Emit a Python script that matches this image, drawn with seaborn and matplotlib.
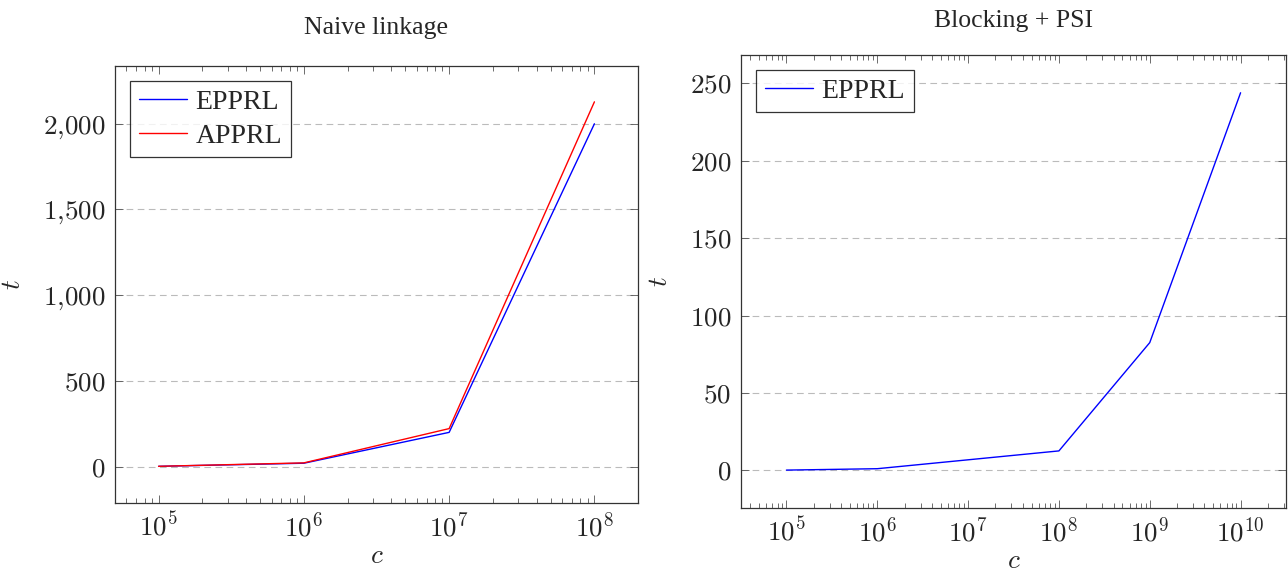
import numpy as np
import pandas as pd
import matplotlib
matplotlib.use("Agg")
import matplotlib.pyplot as plt
import matplotlib.ticker as mticker
import seaborn as sns

# ---- data ----
naive_c = [1e5, 1e6, 1e7, 1e8]
naive_epprl = [2, 20, 200, 2000]
naive_apprl = [2, 22, 222, 2128]

block_c = [1e5, 1e6, 1e8, 1e9, 1e10]
block_epprl = [0.1, 1.0, 12.5, 82.5, 244]

sns.set_theme(style="white")
plt.rcParams['font.family'] = ['Liberation Serif', 'DejaVu Serif']
plt.rcParams['mathtext.fontset'] = 'cm'

fig = plt.figure(figsize=(12.88, 5.77), dpi=100)
W, H = 1288, 577
ax1 = fig.add_axes([115 / W, 1 - 503 / H, (638 - 115) / W, (503 - 66) / H])
ax2 = fig.add_axes([741 / W, 1 - 508 / H, (1286 - 741) / W, (508 - 55) / H])

df1 = pd.DataFrame({
    "c": naive_c * 2,
    "t": naive_epprl + naive_apprl,
    "series": ["EPPRL"] * len(naive_c) + ["APPRL"] * len(naive_c),
})
sns.lineplot(data=df1, x="c", y="t", hue="series",
             palette={"EPPRL": "#0000ff", "APPRL": "#ff0000"},
             linewidth=1.0, ax=ax1, legend=True)

df2 = pd.DataFrame({"c": block_c, "t": block_epprl, "series": ["EPPRL"] * len(block_c)})
sns.lineplot(data=df2, x="c", y="t", hue="series", palette={"EPPRL": "#0000ff"},
             linewidth=1.0, ax=ax2, legend=True)

def style(ax, xlim, ylim, yticks, title, title_pad):
    ax.set_xscale("log")
    ax.set_xlim(*xlim)
    ax.set_ylim(*ylim)
    ax.set_yticks(yticks)
    ax.yaxis.set_major_formatter(mticker.FuncFormatter(lambda v, p: r"$%s$" % "{:,.0f}".format(v).replace(",", "{,}")))
    ax.xaxis.set_major_locator(mticker.LogLocator(base=10, numticks=20))
    ax.xaxis.set_minor_locator(mticker.LogLocator(base=10, subs=np.arange(2, 10), numticks=100))
    ax.xaxis.set_minor_formatter(mticker.NullFormatter())
    ax.xaxis.set_major_formatter(mticker.FuncFormatter(lambda v, p: r"$10^{%d}$" % round(np.log10(v))))
    ax.tick_params(axis="both", which="major", direction="in", length=6, width=0.6,
                   color="#555555", top=True, right=True, bottom=True, left=True,
                   labelsize=19.5, pad=7)
    ax.tick_params(axis="x", which="minor", direction="in", length=3.5, width=0.6,
                   color="#555555", top=True, bottom=True)
    ax.grid(axis="y", which="major", linestyle=(0, (6, 4)), color="#bbbbbb", linewidth=0.8)
    ax.set_axisbelow(True)
    for s in ax.spines.values():
        s.set_color("#333333")
        s.set_linewidth(0.9)
    ax.set_xlabel(r"$c$", fontsize=19.5, labelpad=1)
    ax.set_ylabel(r"$t$", fontsize=19.5, labelpad=12)
    ax.set_title(title, fontsize=18.5, pad=title_pad)
    leg = ax.legend(loc="upper left", fontsize=20, frameon=True, fancybox=False,
                    handlelength=1.75, handletextpad=0.3, borderpad=0.3,
                    labelspacing=0.3, borderaxespad=0.55)
    leg.get_frame().set_edgecolor("black")
    leg.get_frame().set_linewidth(0.9)
    leg.set_title(None)

style(ax1, (10 ** 4.7, 10 ** 8.3), (-212, 2337), [0, 500, 1000, 1500, 2000], "Naive linkage", 23)
style(ax2, (10 ** 4.5, 10 ** 10.5), (-24.4, 268.4), [0, 50, 100, 150, 200, 250], "Blocking + PSI", 20)

fig.savefig("out.png", dpi=100)
